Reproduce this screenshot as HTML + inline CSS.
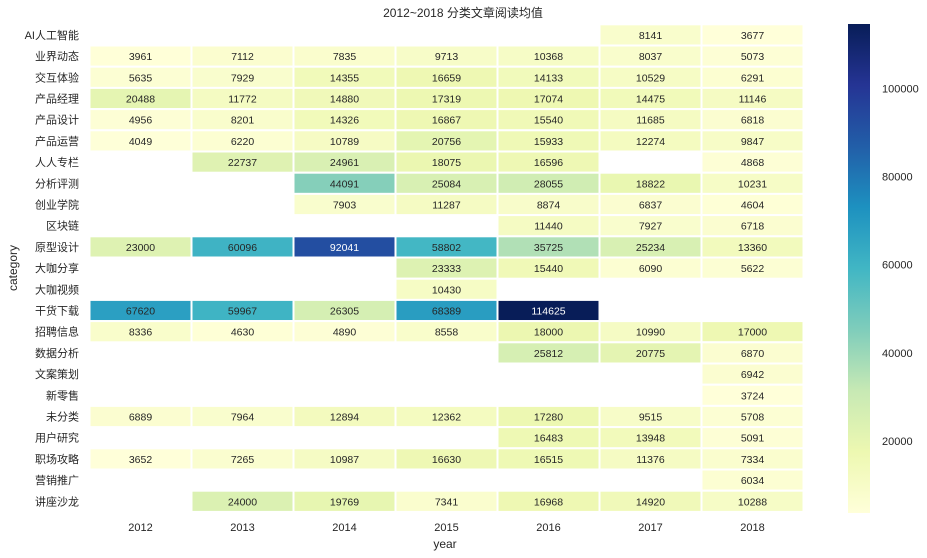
<!DOCTYPE html><html><head><meta charset="utf-8"><style>body{margin:0;background:#fff}svg{display:block}text{font-family:"Liberation Sans","Noto Sans CJK SC",sans-serif;fill:#262626}</style></head><body>
<svg id="s" width="927" height="558" xmlns="http://www.w3.org/2000/svg"></svg>
<script>
const rows=[["AI人工智能",[,,,,,8141,3677]],["业界动态",[3961,7112,7835,9713,10368,8037,5073]],["交互体验",[5635,7929,14355,16659,14133,10529,6291]],["产品经理",[20488,11772,14880,17319,17074,14475,11146]],["产品设计",[4956,8201,14326,16867,15540,11685,6818]],["产品运营",[4049,6220,10789,20756,15933,12274,9847]],["人人专栏",[,22737,24961,18075,16596,,4868]],["分析评测",[,,44091,25084,28055,18822,10231]],["创业学院",[,,7903,11287,8874,6837,4604]],["区块链",[,,,,11440,7927,6718]],["原型设计",[23000,60096,92041,58802,35725,25234,13360]],["大咖分享",[,,,23333,15440,6090,5622]],["大咖视频",[,,,10430,,,,]],["干货下载",[67620,59967,26305,68389,114625,,]],["招聘信息",[8336,4630,4890,8558,18000,10990,17000]],["数据分析",[,,,,25812,20775,6870]],["文案策划",[,,,,,,6942]],["新零售",[,,,,,,3724]],["未分类",[6889,7964,12894,12362,17280,9515,5708]],["用户研究",[,,,,16483,13948,5091]],["职场攻略",[3652,7265,10987,16630,16515,11376,7334]],["营销推广",[,,,,,,6034]],["讲座沙龙",[,24000,19769,7341,16968,14920,10288]]];
const st=["#ffffd9","#edf8b1","#c7e9b4","#7fcdbb","#41b6c4","#1d91c0","#225ea8","#253494","#081d58"].map(h=>[1,3,5].map(i=>parseInt(h.substr(i,2),16)));
const vmin=3652,vmax=114625;
function col(v){let t=Math.max(0,Math.min(1,(v-vmin)/(vmax-vmin)))*8;let i=Math.min(7,Math.floor(t)),f=t-i;return st[i].map((c,k)=>Math.round(c+(st[i+1][k]-c)*f));}
let h='';const x0=89.5,cw=102,y0=24.3,rh=21.2;
h+=`<text x="463" y="17" font-size="12" text-anchor="middle">2012~2018 分类文章阅读均值</text>`;
rows.forEach((r,ri)=>{const y=y0+ri*rh;
h+=`<text x="79" y="${y+rh/2+4}" font-size="11" text-anchor="end">${r[0]}</text>`;
for(let c=0;c<7;c++){const v=r[1][c];if(v==null)continue;const [R,G,B]=col(v);const x=x0+c*cw;
h+=`<rect x="${x}" y="${y}" width="${cw}" height="${rh}" fill="rgb(${R},${G},${B})" stroke="#fff" stroke-width="2"/>`;
const L=(0.299*R+0.587*G+0.114*B)/255;
h+=`<text x="${x+cw/2}" y="${y+rh/2+4}" font-size="10.5" text-anchor="middle" style="fill:${L>0.45?'#262626':'#fff'}">${v}</text>`;}});
for(let c=0;c<7;c++)h+=`<text x="${x0+c*cw+cw/2}" y="531" font-size="11" text-anchor="middle">${2012+c}</text>`;
h+=`<text x="445" y="548" font-size="12" text-anchor="middle">year</text>`;
h+=`<text transform="translate(17,268) rotate(-90)" font-size="12" text-anchor="middle">category</text>`;
h+='<defs><linearGradient id="g" x1="0" y1="1" x2="0" y2="0">'+st.map((c,i)=>`<stop offset="${i/8}" stop-color="rgb(${c})"/>`).join('')+'</linearGradient></defs>';
h+=`<rect x="848" y="24" width="22" height="489" fill="url(#g)"/>`;
[20000,40000,60000,80000,100000].forEach(v=>{const y=513-(v-vmin)/(vmax-vmin)*489;h+=`<text x="882" y="${y+4}" font-size="11">${v}</text>`;});
document.getElementById('s').innerHTML=h;
</script></body></html>
